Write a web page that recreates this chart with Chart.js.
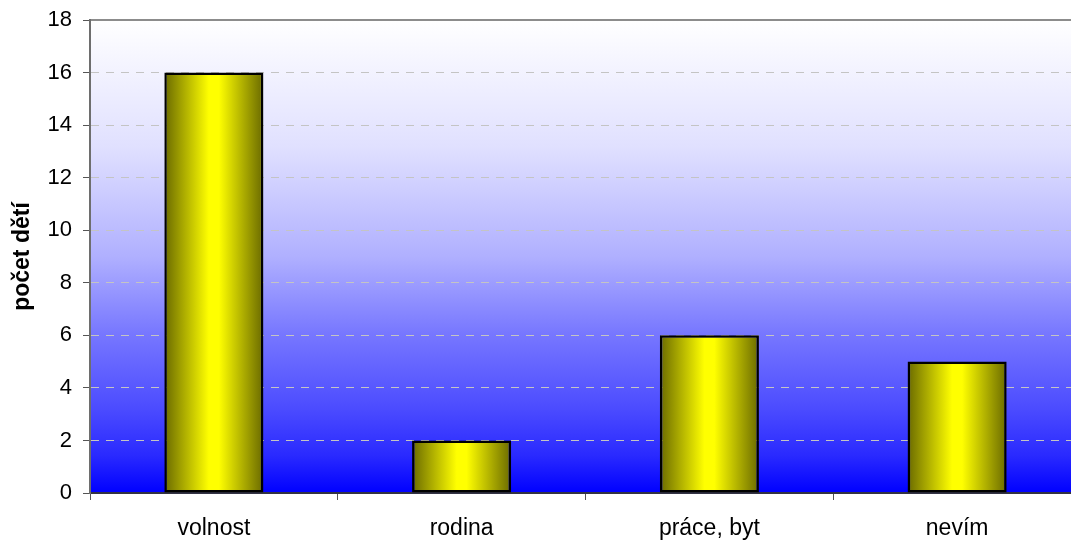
<!DOCTYPE html>
<html>
<head>
<meta charset="utf-8">
<script src="https://cdn.jsdelivr.net/npm/chart.js@4.4.0/dist/chart.umd.min.js"></script>
<style>
  html, body { margin: 0; padding: 0; background: #ffffff; overflow: hidden; }
  #wrap { width: 1085px; height: 540px; }
</style>
</head>
<body>
<div id="wrap"><canvas id="chart"></canvas></div>
<script>
// Data
const categories = ['volnost', 'rodina', 'práce, byt', 'nevím'];
const childCounts = [16, 2, 6, 5];
const yTicks = [0, 2, 4, 6, 8, 10, 12, 14, 16, 18];
const yTitle = 'počet dětí';

const BAR_PCT = 0.4;
const FONT = 'Liberation Sans, Arial, sans-serif';

// Plot background: white at top fading into blue at the bottom
const plotBackground = {
  id: 'plotBackground',
  beforeDraw(chart) {
    const { ctx, chartArea: a } = chart;
    if (!a) return;
    const g = ctx.createLinearGradient(0, a.top, 0, a.bottom);
    g.addColorStop(0, '#ffffff');
    g.addColorStop(0.27, '#e0e0ff');
    g.addColorStop(0.5, '#b0b0ff');
    g.addColorStop(0.66, '#7878ff');
    g.addColorStop(0.82, '#4c4cff');
    g.addColorStop(0.92, '#2a2aff');
    g.addColorStop(1, '#0000ff');
    ctx.save();
    ctx.fillStyle = g;
    ctx.fillRect(a.left, a.top, a.right - a.left, a.bottom - a.top);
    // top border
    ctx.strokeStyle = '#8c8c8c';
    ctx.lineWidth = 2;
    ctx.beginPath();
    ctx.moveTo(a.left, a.top);
    ctx.lineTo(a.right, a.top);
    ctx.stroke();
    ctx.restore();
  }
};

// Bars: dark olive edges, bright yellow middle (one gradient per bar)
function barFill(context) {
  const chart = context.chart;
  const xs = chart.scales && chart.scales.x;
  if (!xs || !chart.chartArea) return '#ffff00';
  const cw = (xs.right - xs.left) / categories.length;
  const w = cw * BAR_PCT;
  const cx = xs.getPixelForValue(context.dataIndex);
  const g = chart.ctx.createLinearGradient(cx - w / 2, 0, cx + w / 2, 0);
  g.addColorStop(0, '#6a6a00');
  g.addColorStop(0.45, '#ffff00');
  g.addColorStop(0.55, '#ffff00');
  g.addColorStop(1, '#6a6a00');
  return g;
}

new Chart(document.getElementById('chart'), {
  type: 'bar',
  data: {
    labels: categories,
    datasets: [{
      data: childCounts,
      backgroundColor: barFill,
      borderColor: '#000000',
      borderWidth: 2.5,
      borderSkipped: false,
      categoryPercentage: 1,
      barPercentage: BAR_PCT
    }]
  },
  options: {
    responsive: true,
    maintainAspectRatio: false,
    animation: false,
    layout: { padding: { top: 20, right: 4, left: 0, bottom: 0 } },
    plugins: {
      legend: { display: false },
      tooltip: { enabled: false }
    },
    scales: {
      x: {
        grid: {
          offset: true,
          drawOnChartArea: false,
          drawTicks: true,
          tickLength: 7,
          color: '#555555'
        },
        border: { color: '#333344', width: 2 },
        ticks: {
          color: '#000000',
          padding: 15,
          font: { family: FONT, size: 23 }
        },
        afterFit(scale) { scale.height = 47; }
      },
      y: {
        min: 0,
        max: 18,
        afterBuildTicks(scale) { scale.ticks = yTicks.map(v => ({ value: v })); },
        grid: {
          color: ctx => (ctx.tick && (ctx.tick.value === 0 || ctx.tick.value === 18)) ? 'rgba(0,0,0,0)' : '#c4c4c4',
          tickColor: '#555555',
          tickLength: 7,
          tickBorderDash: []
        },
        border: { color: '#6e6e6e', width: 2, dash: [8, 7] },
        ticks: {
          color: '#000000',
          padding: 11,
          font: { family: FONT, size: 22 }
        },
        title: {
          display: true,
          text: yTitle,
          color: '#000000',
          padding: { top: 9, bottom: 0 },
          font: { family: FONT, size: 23, weight: 'bold' }
        },
        afterFit(scale) {
          scale.width = 90;
          scale.paddingTop = 0;
          scale.paddingBottom = 0;
        }
      }
    }
  },
  plugins: [plotBackground]
});
</script>
</body>
</html>
